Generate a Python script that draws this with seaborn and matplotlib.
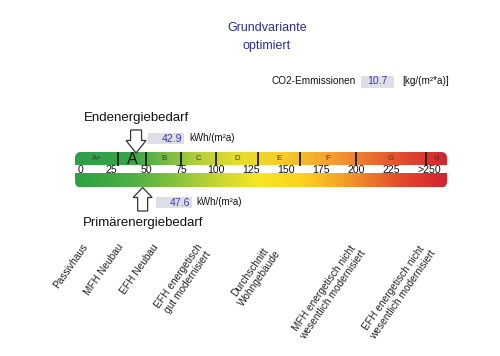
import numpy as np
import matplotlib
matplotlib.use("Agg")
import matplotlib.pyplot as plt
import seaborn as sns
from matplotlib.patches import FancyBboxPatch, Polygon, Rectangle
from matplotlib.colors import LinearSegmentedColormap, Normalize

# ---------------- data ----------------
title_lines = ["Grundvariante", "optimiert"]
co2_label = "CO2-Emmissionen"
co2_value = 10.7
co2_unit = "[kg/(m²*a)]"
end_label = "Endenergiebedarf"
prim_label = "Primärenergiebedarf"
end_value = 42.9
prim_value = 47.6
energy_unit = "kWh/(m²a)"
class_names = ["A+", "A", "B", "C", "D", "E", "F", "G", "H"]
class_edges = [0, 30, 50, 75, 100, 130, 160, 200, 250, 265]
tick_values = [0, 25, 50, 75, 100, 125, 150, 175, 200, 225, 250]
tick_labels = ["0", "25", "50", "75", "100", "125", "150", "175", "200", "225", ">250"]
ref_labels = ["Passivhaus", "MFH Neubau", "EFH Neubau",
              "EFH energetisch\ngut modernisiert", "Durchschnitt\nWohngebäude",
              "MFH energetisch nicht\nwesentlich modernisiert",
              "EFH energetisch nicht\nwesentlich modernisiert"]
ref_values = [4, 29, 54, 86, 135, 196, 246]

top_colors = ["#2f9e48", "#3aa548", "#72b944", "#b4cf3a", "#e5dd2e",
              "#f7cf29", "#f4a331", "#e4592f", "#d3242f"]
bottom_stops = [0, 40, 75, 105, 130, 160, 185, 210, 235, 262]
bottom_colors = ["#2ea043", "#4db044", "#8fc43c", "#cfd931", "#f5e526",
                 "#fbd421", "#f5ac27", "#ec7a2a", "#e2452d", "#d2232f"]

# ---------------- style ----------------
sns.set_theme(style="white")
plt.rcParams['font.family'] = ['Liberation Sans', 'DejaVu Sans']

PX = 1 / 1.4          # data units per pixel horizontally
X0 = -76 * PX
X1 = 424 * PX

fig = plt.figure(figsize=(5.0, 3.56), dpi=100)
ax = fig.add_axes([0, 0, 1, 1])
ax.set_axis_off()

BLUE = "#2e2e8f"
VAL_BLUE = "#3a3ab4"
BOX = "#dedee6"

# title
ax.text(X0 + 267 * PX, 28, title_lines[0], ha="center", va="center", fontsize=9, color=BLUE)
ax.text(X0 + 267 * PX, 45.5, title_lines[1], ha="center", va="center", fontsize=9, color=BLUE)

# CO2 line
ax.text(X0 + 271 * PX, 81.5, co2_label, ha="left", va="center", fontsize=7.2, color="#111111")
ax.add_patch(Rectangle((X0 + 361 * PX, 76), 33 * PX, 12, facecolor=BOX, edgecolor="none"))
ax.text(X0 + 377.5 * PX, 81.5, f"{co2_value:.1f}", ha="center", va="center", fontsize=7.5, color=VAL_BLUE)
ax.text(X0 + 402 * PX, 81.5, co2_unit, ha="left", va="center", fontsize=7.2, color="#111111")

# headings
ax.text(X0 + 84 * PX, 118, end_label, ha="left", va="center", fontsize=9.5, color="#111111")
ax.text(X0 + 83 * PX, 223, prim_label, ha="left", va="center", fontsize=9.5, color="#111111")

# bars with gradients
bar_x0, bar_x1 = -0.7, 265
bar = FancyBboxPatch((bar_x0, 152), bar_x1 - bar_x0, 35.5,
                     boxstyle="round,pad=0,rounding_size=4.3", mutation_aspect=1.4,
                     facecolor="none", edgecolor="none", transform=ax.transData)
ax.add_patch(bar)

centers = [(a + b) / 2 for a, b in zip(class_edges[:-1], class_edges[1:])]
norm = Normalize(bar_x0, bar_x1)
top_cmap = LinearSegmentedColormap.from_list(
    "top", list(zip([norm(c) for c in [bar_x0] + centers[1:-1] + [bar_x1]], top_colors)))
bot_cmap = LinearSegmentedColormap.from_list(
    "bot", list(zip([0.0] + [norm(s) for s in bottom_stops[1:-1]] + [1.0], bottom_colors)))

grad = np.linspace(bar_x0, bar_x1, 600).reshape(1, -1)
im1 = ax.imshow(grad, extent=[bar_x0, bar_x1, 165.5, 152], aspect="auto",
                cmap=top_cmap, norm=norm, interpolation="bilinear")
im1.set_clip_path(bar)
im2 = ax.imshow(grad, extent=[bar_x0, bar_x1, 187.5, 174], aspect="auto",
                cmap=bot_cmap, norm=norm, interpolation="bilinear")
im2.set_clip_path(bar)

# class dividers and names
ax.vlines(class_edges[1:-1], 152, 165.5, color="#1a1a1a", lw=1.3)
for name, lo, hi, c in zip(class_names, class_edges[:-1], class_edges[1:], centers):
    active = lo <= end_value < hi
    ax.text(c, 158.5 if not active else 159.5, name, ha="center", va="center",
            fontsize=11.5 if active else 5.6, color="#111111" if active else "#3a3a3a")

# scale ticks
for i, (v, lab) in enumerate(zip(tick_values, tick_labels)):
    if i == 0:
        ax.text(v + 1.4, 170, lab, ha="left", va="center", fontsize=7.6, color="#111111")
    elif i == len(tick_values) - 1:
        ax.text(v + 10.5, 170, lab, ha="right", va="center", fontsize=7.6, color="#111111")
    else:
        ax.text(v, 170, lab, ha="center", va="center", fontsize=7.6, color="#111111")

# arrows
def arrow_down(v, y_top, y_head, y_tip, hs, hh):
    pts = [(v - hs * PX, y_top), (v + hs * PX, y_top), (v + hs * PX, y_head),
           (v + hh * PX, y_head), (v, y_tip), (v - hh * PX, y_head), (v - hs * PX, y_head)]
    ax.add_patch(Polygon(pts, closed=True, facecolor="white", edgecolor="#333333", lw=0.9))

arrow_down(end_value, 130, 140.5, 153, 5.5, 10)
arrow_down(prim_value, 211, 197.5, 187.5, 5, 9.5)

# value boxes
def value_box(v, y0, off):
    bx = v + off * PX
    ax.add_patch(Rectangle((bx, y0), 36 * PX, 10.5, facecolor=BOX, edgecolor="none"))
    ax.text(bx + 34.5 * PX, y0 + 5.5, f"{v:.1f}", ha="right", va="center", fontsize=7.6, color=VAL_BLUE)
    ax.text(bx + 41 * PX, y0 + 5.3, energy_unit, ha="left", va="center", fontsize=7, color="#111111")

value_box(end_value, 133, 12)
value_box(prim_value, 197, 13)

# reference building labels
for lab, v in zip(ref_labels, ref_values):
    ax.text(v, 242, lab, ha="right", va="top", rotation=55, rotation_mode="anchor",
            multialignment="center", fontsize=7.3, color="#222222", linespacing=1.15)

ax.set_xlim(X0, X1)
ax.set_ylim(356, 0)
fig.savefig("out.png", dpi=100)
